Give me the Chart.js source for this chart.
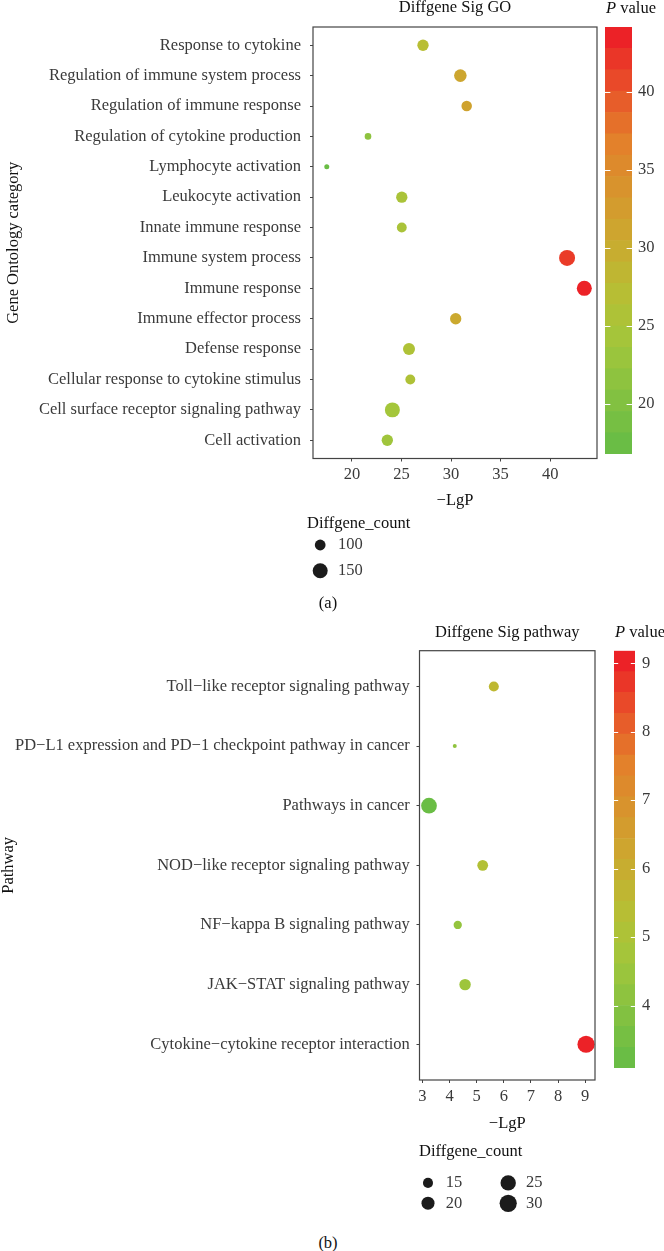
<!DOCTYPE html>
<html>
<head>
<meta charset="utf-8">
<script src="https://cdn.jsdelivr.net/npm/chart.js@4.4.1/dist/chart.umd.min.js"></script>
<style>
  html, body { margin: 0; padding: 0; background: #fff; }
  body { position: relative; width: 664px; height: 1251px; overflow: hidden; }
  canvas { position: absolute; }
  .txt { position: absolute; font: 16.5px 'Liberation Serif', 'DejaVu Serif', serif; color: #111; line-height: 20px; white-space: nowrap; }
  .ctr { width: 100px; text-align: center; }
</style>
</head>
<body>
<canvas id="goChart" width="607" height="515" style="left:0;top:0"></canvas>
<canvas id="goScale" width="59" height="470" style="left:605px;top:0"></canvas>
<canvas id="goSize" width="140" height="95" style="left:297px;top:510px"></canvas>
<div class="txt" style="left:606px;top:-2px"><i>P</i> value</div>
<div class="txt" style="left:307px;top:513px">Diffgene_count</div>
<div class="txt ctr" style="left:278px;top:593px">(a)</div>

<canvas id="pwChart" width="605" height="520" style="left:0;top:615px"></canvas>
<canvas id="pwScale" width="50" height="470" style="left:614px;top:615px"></canvas>
<canvas id="pwSize1" width="140" height="95" style="left:410px;top:1138px"></canvas>
<canvas id="pwSize2" width="80" height="95" style="left:490px;top:1138px"></canvas>
<div class="txt" style="left:615px;top:622px"><i>P</i> value</div>
<div class="txt" style="left:419px;top:1141px">Diffgene_count</div>
<div class="txt ctr" style="left:278px;top:1233px">(b)</div>

<script>
/* ---- Data: GO enrichment (a) ---- */
const goTerms = [
  'Response to cytokine',
  'Regulation of immune system process',
  'Regulation of immune response',
  'Regulation of cytokine production',
  'Lymphocyte activation',
  'Leukocyte activation',
  'Innate immune response',
  'Immune system process',
  'Immune response',
  'Immune effector process',
  'Defense response',
  'Cellular response to cytokine stimulus',
  'Cell surface receptor signaling pathway',
  'Cell activation',
];
const goLgP = [27.17, 30.94, 31.58, 21.62, 17.46, 25.03, 25.03, 41.71, 43.45, 30.47, 25.76, 25.89, 24.08, 23.57];
const goCount = [105, 118, 98, 77, 75, 105, 93, 166, 150, 105, 112, 93, 150, 105];
const goXTicks = [20, 25, 30, 35, 40];
const goColorTicks = [20, 25, 30, 35, 40];
const goSizeKeys = [100, 150];

/* ---- Data: KEGG pathways (b) ---- */
const pwTerms = [
  'Toll\u2212like receptor signaling pathway',
  'PD\u2212L1 expression and PD\u22121 checkpoint pathway in cancer',
  'Pathways in cancer',
  'NOD\u2212like receptor signaling pathway',
  'NF\u2212kappa B signaling pathway',
  'JAK\u2212STAT signaling pathway',
  'Cytokine\u2212cytokine receptor interaction',
];
const pwLgP = [5.63, 4.19, 3.24, 5.22, 4.30, 4.57, 9.03];
const pwCount = [15, 11, 26, 16, 13, 17, 30];
const pwXTicks = [3, 4, 5, 6, 7, 8, 9];
const pwColorTicks = [4, 5, 6, 7, 8, 9];
const pwSizeKeys1 = [15, 20];
const pwSizeKeys2 = [25, 30];

/* ---- Shared styling ---- */
const FONT = "'Liberation Serif', 'DejaVu Serif', serif";
const TICK_COLOR = '#3a3a3a';
const TITLE_COLOR = '#111';
const LINE_COLOR = '#444';
const N_BINS = 20;

// green -> red ramp as it appears in the printed figure
const RAMP = [
  [0.00, [106, 189, 69]],
  [0.25, [163, 198, 59]],
  [0.375, [184, 190, 52]],
  [0.50, [203, 169, 47]],
  [0.75, [228, 127, 43]],
  [1.00, [236, 34, 39]],
];

function _rampColor(t) {
  t = Math.max(0, Math.min(1, t));
  for (let i = 1; i < RAMP.length; i++) {
    const [t1, c1] = RAMP[i];
    const [t0, c0] = RAMP[i - 1];
    if (t <= t1) {
      const f = (t - t0) / (t1 - t0);
      const c = c0.map((v, k) => Math.round(v + (c1[k] - v) * f));
      return `rgb(${c[0]},${c[1]},${c[2]})`;
    }
  }
  return 'rgb(236,34,39)';
}

function _colorFn(values) {
  const lo = Math.min(...values), hi = Math.max(...values);
  return (v) => _rampColor((v - lo) / (hi - lo));
}

// area-style size scale (ggplot scale_size)
function _sizeFn(counts, rMin, rMax) {
  const lo = Math.min(...counts), hi = Math.max(...counts);
  return (c) => rMin + (rMax - rMin) * Math.sqrt(Math.max(0, (c - lo) / (hi - lo)));
}

const framePlugin = {
  id: 'frame',
  afterDatasetsDraw(chart) {
    const { ctx, chartArea: a } = chart;
    ctx.save();
    ctx.strokeStyle = LINE_COLOR;
    ctx.lineWidth = 1.2;
    ctx.strokeRect(a.left, a.top, a.right - a.left, a.bottom - a.top);
    ctx.restore();
  },
};

// white tick dashes drawn across the colour bar edges
const barTickPlugin = {
  id: 'barTicks',
  afterDatasetsDraw(chart) {
    const { ctx, chartArea: a } = chart;
    const scale = chart.scales.y;
    const w = (a.right - a.left) / 5;
    ctx.save();
    ctx.strokeStyle = '#fff';
    ctx.lineWidth = 1;
    scale.ticks.forEach((t) => {
      const y = Math.round(scale.getPixelForValue(t.value)) + 0.5;
      ctx.beginPath();
      ctx.moveTo(a.left, y); ctx.lineTo(a.left + w, y);
      ctx.moveTo(a.right - w, y); ctx.lineTo(a.right, y);
      ctx.stroke();
    });
    ctx.restore();
  },
};

/* ---- Builders ---- */

function renderDotPlot(canvasId, cfg) {
  const color = _colorFn(cfg.lgp);
  const size = _sizeFn(cfg.count, cfg.rMin, cfg.rMax);
  const n = cfg.terms.length;
  const points = cfg.terms.map((_, i) => ({ x: cfg.lgp[i], y: i, r: size(cfg.count[i]) }));

  return new Chart(document.getElementById(canvasId), {
    type: 'bubble',
    data: {
      datasets: [{
        data: points,
        backgroundColor: cfg.lgp.map(color),
        borderWidth: 0,
        hoverBorderWidth: 0,
        clip: false,
      }],
    },
    options: {
      responsive: false,
      animation: false,
      events: [],
      // right padding must exceed the largest bubble radius (bubble overflow)
      layout: { padding: { left: 0, right: 10, top: 0, bottom: 0 } },
      plugins: {
        legend: { display: false },
        tooltip: { enabled: false },
        title: {
          display: true,
          text: cfg.title,
          fullSize: false,
          color: TITLE_COLOR,
          font: { family: FONT, size: 16.5, weight: 'normal', lineHeight: cfg.titleLH },
          padding: cfg.titlePad,
        },
      },
      scales: {
        x: {
          type: 'linear',
          min: cfg.xMin,
          max: cfg.xMax,
          afterBuildTicks: (s) => { s.ticks = cfg.xTicks.map((v) => ({ value: v })); },
          afterFit: (s) => { s.height = cfg.xHeight; },
          grid: { drawOnChartArea: false, drawTicks: true, tickLength: 3, color: LINE_COLOR },
          border: { display: false },
          ticks: {
            autoSkip: false, maxRotation: 0, padding: cfg.xTickPad,
            color: TICK_COLOR, font: { family: FONT, size: 16.5 },
            callback: (v) => String(v),
          },
          title: {
            display: true, text: '\u2212LgP', color: TITLE_COLOR,
            font: { family: FONT, size: 16.5 }, padding: { top: 0, bottom: cfg.xTitlePad },
          },
        },
        y: {
          type: 'linear',
          reverse: true,
          min: -0.6,
          max: n - 1 + 0.6,
          afterBuildTicks: (s) => { s.ticks = cfg.terms.map((_, i) => ({ value: i })); },
          afterFit: (s) => { s.width = cfg.yWidth; },
          grid: { drawOnChartArea: false, drawTicks: true, tickLength: 3, color: LINE_COLOR },
          border: { display: false },
          ticks: {
            autoSkip: false, padding: cfg.yTickPad,
            color: TICK_COLOR, font: { family: FONT, size: 16.5 },
            callback: (v) => cfg.terms[v],
          },
          title: {
            display: true, text: cfg.yTitle, color: TITLE_COLOR,
            font: { family: FONT, size: 16.5, lineHeight: 1 }, padding: { top: cfg.yTitlePad, bottom: 0 },
          },
        },
      },
    },
    plugins: [framePlugin],
  });
}

function renderColorBar(canvasId, values, ticks, pad) {
  const color = _colorFn(values);
  const lo = Math.min(...values), hi = Math.max(...values);
  const step = (hi - lo) / (N_BINS - 1);
  const bins = [];
  for (let i = 0; i < N_BINS; i++) {
    const mid = lo + i * step;
    bins.push({ lo: mid - step / 2, hi: mid + step / 2, color: color(mid) });
  }

  return new Chart(document.getElementById(canvasId), {
    type: 'bar',
    data: {
      labels: [''],
      datasets: bins.map((b) => ({
        data: [[b.lo, b.hi]],
        backgroundColor: b.color,
        borderWidth: 0,
        grouped: false,
        barPercentage: 1,
        categoryPercentage: 1,
      })),
    },
    options: {
      responsive: false,
      animation: false,
      events: [],
      layout: { padding: { left: 0, right: 0, top: pad.top, bottom: pad.bottom } },
      plugins: { legend: { display: false }, tooltip: { enabled: false } },
      scales: {
        x: { display: false },
        y: {
          position: 'right',
          min: lo - step / 2,
          max: hi + step / 2,
          afterBuildTicks: (s) => { s.ticks = ticks.map((v) => ({ value: v })); },
          afterFit: (s) => { s.width = pad.axis; },
          grid: { display: false, drawTicks: false },
          border: { display: false },
          ticks: {
            padding: pad.label, color: TICK_COLOR,
            font: { family: FONT, size: 16.5 },
            callback: (v) => String(v),
          },
        },
      },
    },
    plugins: [barTickPlugin],
  });
}

function renderSizeKey(canvasId, keys, size, opt) {
  return new Chart(document.getElementById(canvasId), {
    type: 'bubble',
    data: {
      datasets: [{
        data: keys.map((k) => ({ x: 0, y: String(k), r: size(k) })),
        backgroundColor: '#1b1b1b',
        borderWidth: 0,
        clip: false,
      }],
    },
    options: {
      responsive: false,
      animation: false,
      events: [],
      layout: { padding: { left: 10, right: opt.padRight, top: opt.padTop, bottom: opt.padBottom } },
      plugins: { legend: { display: false }, tooltip: { enabled: false } },
      scales: {
        x: { type: 'linear', min: -1, max: 1, display: false },
        y: {
          type: 'category',
          labels: keys.map(String),
          offset: true,
          position: 'right',
          afterFit: (s) => { s.width = 40; },
          grid: { display: false, drawTicks: false },
          border: { display: false },
          ticks: { padding: opt.labelPad, color: TICK_COLOR, font: { family: FONT, size: 16.5 } },
        },
      },
    },
  });
}

/* ---- Panel (a) ---- */
const goSize = _sizeFn(goCount, 2.5, 8);
renderDotPlot('goChart', {
  terms: goTerms, lgp: goLgP, count: goCount, rMin: 2.5, rMax: 8,
  title: 'Diffgene Sig GO', titleLH: 0.8, titlePad: { top: 0.7, bottom: 13.1 },
  xMin: 16.07, xMax: 44.73, xTicks: goXTicks, xHeight: 56.5, xTickPad: 3.6, xTitlePad: 4.1,
  yWidth: 313, yTickPad: 9, yTitle: 'Gene Ontology category', yTitlePad: 5.75,
});
renderColorBar('goScale', goLgP, goColorTicks, { top: 27, bottom: 8.3, axis: 32, label: 6 });
renderSizeKey('goSize', goSizeKeys, goSize, {
  padTop: 22.15, padBottom: 21.45, padRight: 63.6, labelPad: 4.6,
});

/* ---- Panel (b) ---- */
const pwSize = _sizeFn(pwCount, 2, 8.6);
renderDotPlot('pwChart', {
  terms: pwTerms, lgp: pwLgP, count: pwCount, rMin: 2, rMax: 8.6,
  title: 'Diffgene Sig pathway', titleLH: 1, titlePad: { top: 9.45, bottom: 9.75 },
  xMin: 2.89, xMax: 9.36, xTicks: pwXTicks, xHeight: 55, xTickPad: 3.8, xTitlePad: 1.8,
  yWidth: 419.5, yTickPad: 6.7, yTitle: 'Pathway', yTitlePad: 0.65,
});
renderColorBar('pwScale', pwLgP, pwColorTicks, { top: 35.7, bottom: 4, axis: 29, label: 7 });
renderSizeKey('pwSize1', pwSizeKeys1, pwSize, {
  padTop: 34.7, padBottom: 10.3, padRight: 74, labelPad: 9.7,
});
renderSizeKey('pwSize2', pwSizeKeys2, pwSize, {
  padTop: 34.7, padBottom: 10.3, padRight: 13.6, labelPad: 9.6,
});
</script>
</body>
</html>
